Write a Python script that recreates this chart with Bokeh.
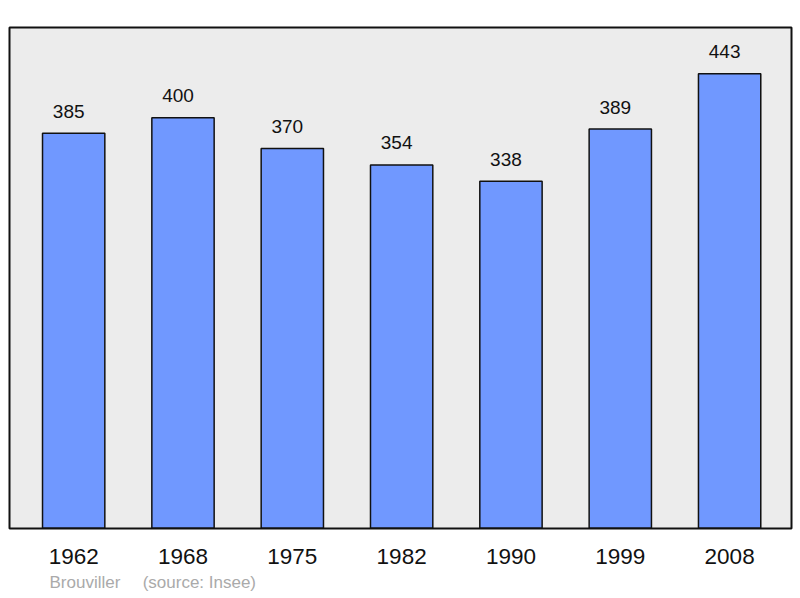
from bokeh.plotting import figure
from bokeh.models import Range1d, ColumnDataSource, Title, FixedTicker
from bokeh.core.properties import value
from bokeh.embed import file_html
from bokeh.resources import INLINE

years = ["1962", "1968", "1975", "1982", "1990", "1999", "2008"]
population = [385, 400, 370, 354, 338, 389, 443]
place = "Brouviller"
source_note = "(source: Insee)"

xs = list(range(len(years)))
src = ColumnDataSource(dict(x=xs, pop=population, lbl=[str(v) for v in population]))

p = figure(width=800, height=598, output_backend="svg", toolbar_location=None,
           x_range=Range1d(-0.587, 6.566), y_range=Range1d(-0.5, 488),
           y_axis_location=None, min_border_left=9, min_border_right=9,
           min_border_top=27, min_border_bottom=70)
p.background_fill_color = "#ececec"
p.border_fill_color = "white"
p.outline_line_color = "#111111"
p.outline_line_width = 2
p.xgrid.visible = False
p.ygrid.visible = False

p.vbar(x="x", top="pop", bottom=0, width=0.57, source=src,
       fill_color="#7098ff", line_color="#111111", line_width=1.5)

p.text(x="x", y="pop", text="lbl", source=src, x_offset=-5, y_offset=-22,
       text_align="center", text_baseline="alphabetic",
       text_font=value("Liberation Sans"), text_font_size="19px", text_color="#111111")

ax = p.xaxis[0]
ax.ticker = FixedTicker(ticks=xs)
ax.major_label_overrides = {i: y for i, y in zip(xs, years)}
ax.axis_line_color = None
ax.major_tick_line_color = None
ax.minor_tick_line_color = None
ax.major_label_text_font = "Liberation Sans"
ax.major_label_text_font_size = "22.5px"
ax.major_label_text_color = "#111111"
ax.major_label_standoff = 14

p.add_layout(Title(text=place + "\u00a0\u00a0\u00a0\u00a0\u2009" + source_note,
                   align="left", offset=40, standoff=9,
                   text_font="Liberation Sans", text_font_size="17px",
                   text_font_style="normal", text_color="#aaaaaa"), "below")

open("out.html", "w").write(file_html(p, INLINE))
